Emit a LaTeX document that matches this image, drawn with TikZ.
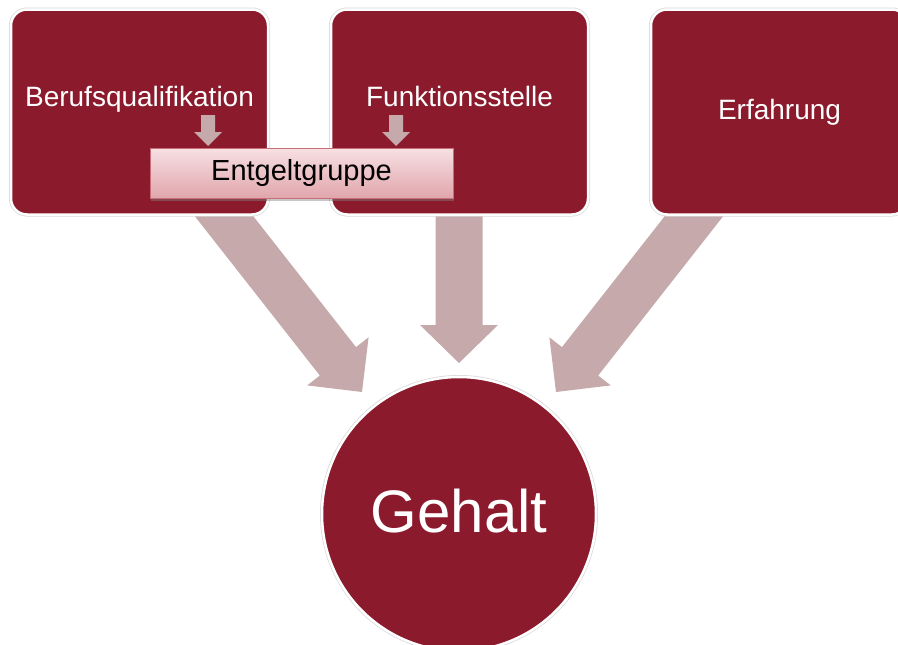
\documentclass[tikz,border=0pt]{standalone}
\usepackage{fontspec}
\setmainfont{Liberation Sans}
\usepackage{tikz}
\usetikzlibrary{positioning, calc, shadows}

\definecolor{gehaltrot}{RGB}{139,26,44}
\definecolor{pfeilrosa}{RGB}{197,169,171}
\definecolor{entgelthell}{RGB}{247,224,227}
\definecolor{entgeltdunkel}{RGB}{224,166,172}
\definecolor{entgeltrand}{RGB}{200,110,120}

% block arrow: start, tip, half shaft, half head, head length
\newcommand{\blockarrow}[5]{%
  \coordinate (ba-back) at ($(#2)!#5!(#1)$);
  \fill[pfeilrosa]
    ($(#1)!#3!90:(#2)$) -- ($(ba-back)!#3!90:(#2)$) -- ($(ba-back)!#4!90:(#2)$)
    -- (#2) -- ($(ba-back)!#4!-90:(#2)$) -- ($(ba-back)!#3!-90:(#2)$)
    -- ($(#1)!#3!-90:(#2)$) -- cycle;
}

\begin{document}
\begin{tikzpicture}[x=1pt, y=-1pt,
    topbox/.style={rectangle, rounded corners=16pt, fill=gehaltrot,
      draw=white, line width=2.5pt, preaction={draw=black!15, line width=4pt},
      minimum width=257pt, minimum height=205pt, text=white,
      font=\fontsize{28}{32}\selectfont},
    boxtext/.style={text=white, inner sep=0pt, text height=21pt, text depth=6pt,
      font=\fontsize{28}{32}\selectfont},
    entgeltbox/.style={rectangle, top color=entgelthell, bottom color=entgeltdunkel,
      draw=entgeltrand, line width=0.6pt, minimum width=303pt, minimum height=50pt,
      drop shadow={shadow xshift=1pt, shadow yshift=-2.5pt, opacity=0.45},
      font=\fontsize{29}{33}\selectfont},
    kreis/.style={circle, fill=gehaltrot, draw=white, line width=2.5pt,
      preaction={draw=black!15, line width=4pt}, minimum size=274pt,
      text=white, text depth=6pt, font=\fontsize{60}{66}\selectfont}]

    % Page size of the slide
    \useasboundingbox (0,0) rectangle (898,645);
    \clip (0,0) rectangle (898,645);

    % Start and tip points of the big arrows
    \coordinate (s1) at (203.5,190);
    \coordinate (t1) at (362,392);
    \coordinate (s2) at (459,190);
    \coordinate (t2) at (459,363);
    \coordinate (s3) at (714.5,190);
    \coordinate (t3) at (556,392);

    % Big arrows towards the circle
    \blockarrow{s1}{t1}{23pt}{39pt}{39pt}
    \blockarrow{s2}{t2}{23.5pt}{39pt}{38pt}
    \blockarrow{s3}{t3}{23pt}{39pt}{39pt}

    % The three boxes on top
    \node[topbox] (berufs) at (139.5,112) {};
    \node[topbox] (funktion) at (459.5,112) {};
    \node[topbox] (erfahrung) at (779.5,112) {Erfahrung};

    \node[boxtext] (berufstxt) at ([yshift=13pt]berufs.center) {Berufsqualifikation};
    \node[boxtext] (funktiontxt) at ([yshift=13pt]funktion.center) {Funktionsstelle};

    % Small arrows into the Entgeltgruppe bar
    \coordinate (k1) at (208,115);
    \coordinate (k1tip) at (208,146);
    \coordinate (k2) at (396,115);
    \coordinate (k2tip) at (396,146);
    \blockarrow{k1}{k1tip}{7pt}{14pt}{14pt}
    \blockarrow{k2}{k2tip}{7pt}{14pt}{14pt}

    \node[entgeltbox] (entgelt) at (301.5,173) {Entgeltgruppe};

    % Result circle
    \node[kreis] (gehalt) at (459,514) {Gehalt};

\end{tikzpicture}
\end{document}
